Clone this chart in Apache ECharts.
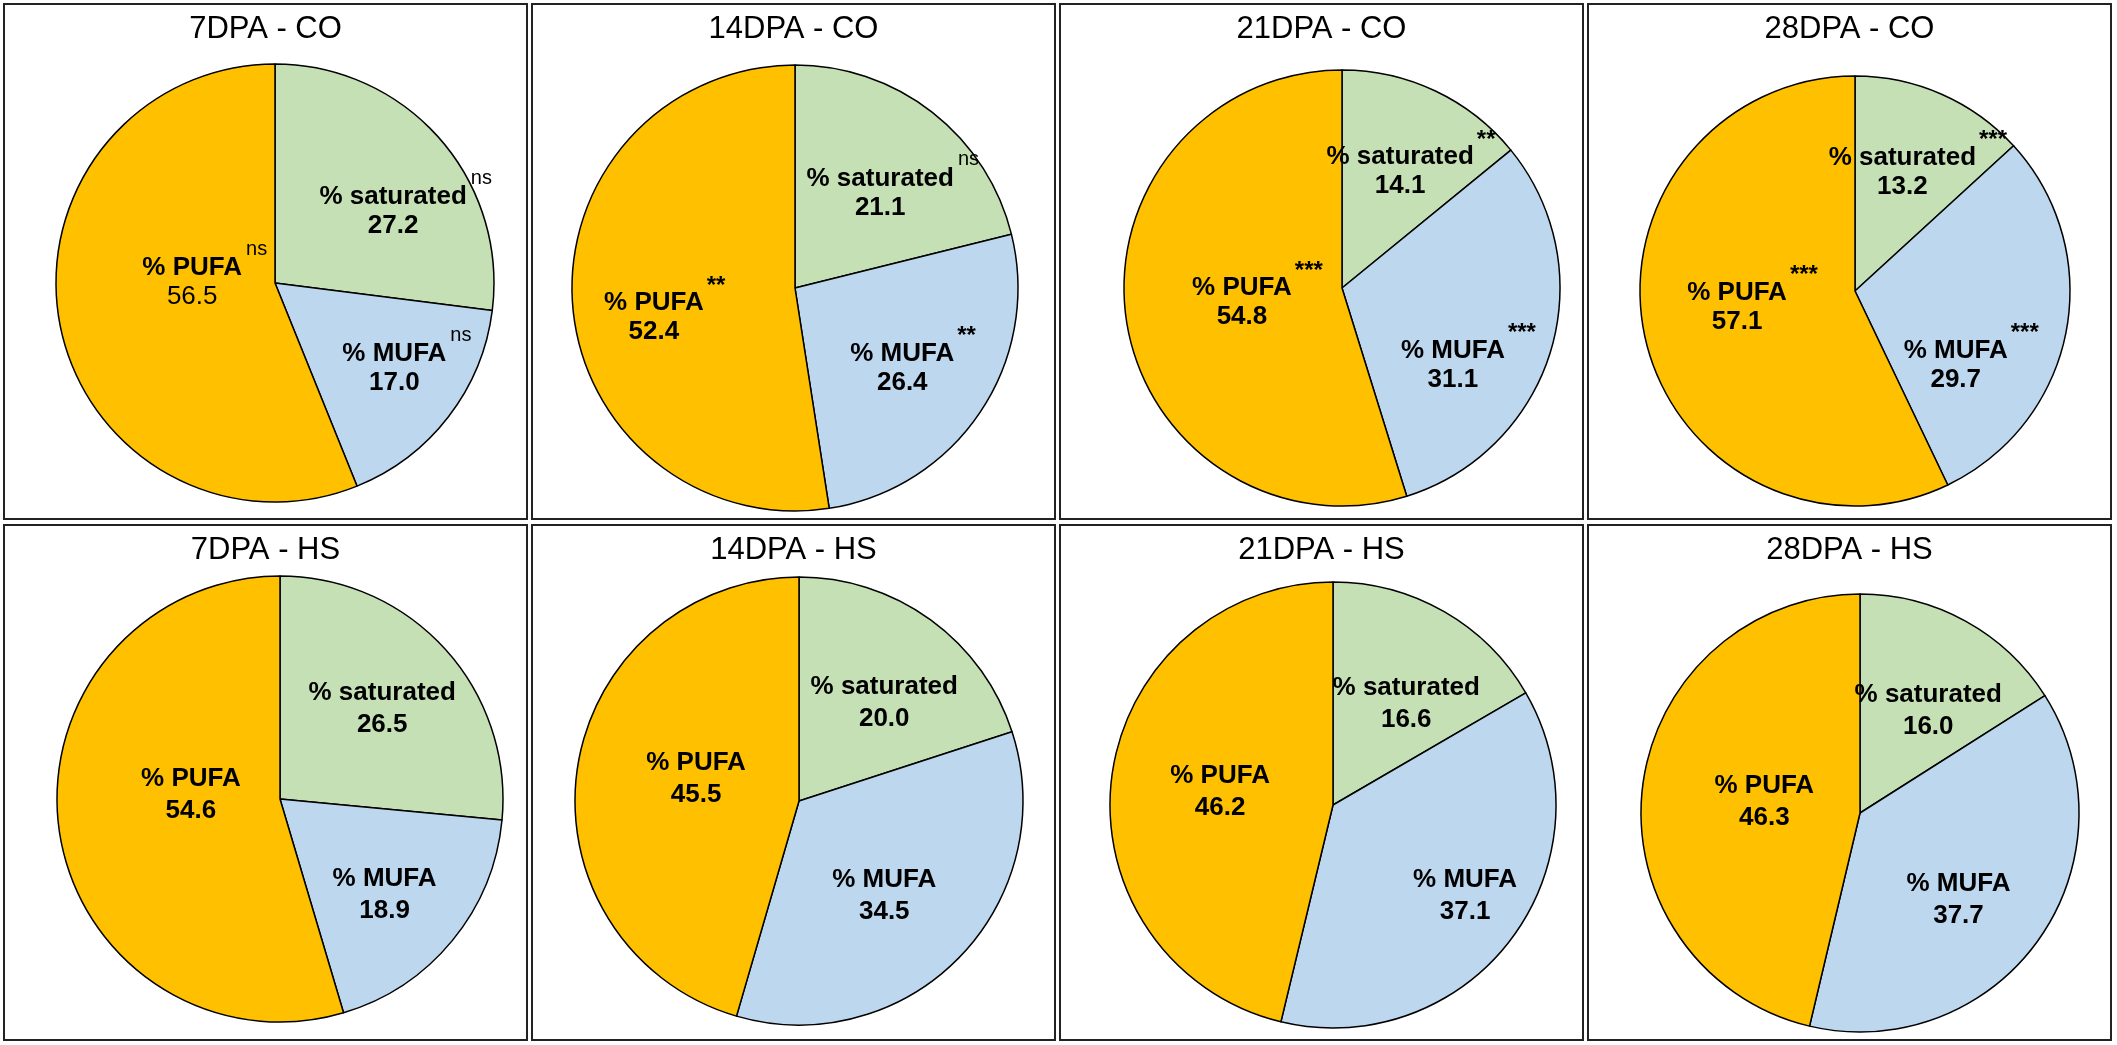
<!DOCTYPE html>
<html>
<head>
<meta charset="utf-8">
<script src="https://cdn.jsdelivr.net/npm/echarts@6/dist/echarts.min.js"></script>
<style>
html, body { margin: 0; padding: 0; background: #fff; }
body { width: 2117px; height: 1045px; position: relative; overflow: hidden; }
.panel { position: absolute; width: 525px; height: 517px; border: 2px solid #222; box-sizing: border-box; background: #fff; }
.panel .chart { width: 100%; height: 100%; }
</style>
</head>
<body>
<script>
// --- data ---
var panelTitles = ['7DPA - CO', '14DPA - CO', '21DPA - CO', '28DPA - CO',
                   '7DPA - HS', '14DPA - HS', '21DPA - HS', '28DPA - HS'];
var categories = ['% saturated', '% MUFA', '% PUFA'];
var saturated = [27.2, 21.1, 14.1, 13.2, 26.5, 20.0, 16.6, 16.0];
var mufa      = [17.0, 26.4, 31.1, 29.7, 18.9, 34.5, 37.1, 37.7];
var pufa      = [56.5, 52.4, 54.8, 57.1, 54.6, 45.5, 46.2, 46.3];
// significance marks (CO vs HS)
var satSig  = ['ns', 'ns', '**', '***', '', '', '', ''];
var mufaSig = ['ns', '**', '***', '***', '', '', '', ''];
var pufaSig = ['ns', '**', '***', '***', '', '', '', ''];

// --- layout / style ---
var colors = ['#C5E0B4', '#BDD7EE', '#FFC000'];
var panelLeft = [3, 531, 1059, 1587];
var panelTop = [3, 524];
var pieCenter = [[270, 278], [262, 283], [281, 283], [266, 286],
                 [275, 273], [266, 275], [272, 279], [271, 287]];
var pieRadius = [219, 223, 218, 215, 223, 224, 223, 219];
// label placement: [share of radius, turn in degrees from the slice middle] for sat, mufa, pufa
var labelPos = [
    [[0.65, 8], [0.65, -4], [0.38, 16]],
    [[0.60, 2], [0.58, 1], [0.64, -5]],
    [[0.63, 0], [0.60, 16], [0.46, 4]],
    [[0.63, -3], [0.56, 23], [0.55, 8]],
    [[0.61, 1], [0.635, 3], [0.40, 11]],
    [[0.58, 5], [0.57, 4], [0.47, 4]],
    [[0.56, 6], [0.72, -2], [0.51, 0]],
    [[0.56, 5], [0.60, 6], [0.44, 0]]
];
var FONT = "'Liberation Sans', Arial, sans-serif";

var measure = document.createElement('canvas').getContext('2d');
function textWidth(txt, font) {
    measure.font = font;
    return measure.measureText(txt).width;
}
function sigWidth(s) {
    if (s === 'ns') return textWidth(s, 'normal 20px ' + FONT) + 4;
    return textWidth(s, 'bold 24px ' + FONT) + 3;
}

var rich = {
    name: {fontSize: 26, fontWeight: 'bold', lineHeight: 32, color: '#000', fontFamily: FONT},
    ns: {fontSize: 20, fontWeight: 'normal', verticalAlign: 'top', color: '#000', fontFamily: FONT, padding: [0, 0, 0, 4]},
    star: {fontSize: 24, fontWeight: 'bold', verticalAlign: 'top', color: '#000', fontFamily: FONT, padding: [0, 0, 0, 3]},
    val: {fontSize: 26, fontWeight: 'bold', lineHeight: 32, color: '#000', fontFamily: FONT},
    valPlain: {fontSize: 26, fontWeight: 'normal', lineHeight: 32, color: '#000', fontFamily: FONT}
};
['ns', '**', '***'].forEach(function (s, i) {
    rich['nameUp' + i] = {fontSize: 26, fontWeight: 'bold', lineHeight: 42, verticalAlign: 'bottom',
        color: '#000', fontFamily: FONT, padding: [0, 0, 0, sigWidth(s)]};
});
var sigKey = {'ns': 0, '**': 1, '***': 2};

function makeLabel(panel, p) {
    var sig = [satSig, mufaSig, pufaSig][p.dataIndex][panel];
    // the 56.5 in the first panel is set in plain weight
    var vs = (panel === 0 && p.dataIndex === 2) ? 'valPlain' : 'val';
    var val = '{' + vs + '|' + p.value.toFixed(1) + '}';
    if (!sig) return '{name|' + p.name + '}\n' + val;
    var sk = sig === 'ns' ? 'ns' : 'star';
    return '{nameUp' + sigKey[sig] + '|' + p.name + '}{' + sk + '|' + sig + '}\n' + val;
}

function DrawPanel(k) {
    var row = Math.floor(k / 4), col = k % 4;
    var box = document.createElement('div');
    box.className = 'panel';
    box.style.left = panelLeft[col] + 'px';
    box.style.top = panelTop[row] + 'px';
    var el = document.createElement('div');
    el.className = 'chart';
    box.appendChild(el);
    document.body.appendChild(box);

    var values = [saturated[k], mufa[k], pufa[k]];
    var cx = pieCenter[k][0], cy = pieCenter[k][1], R = pieRadius[k];

    var myChart = echarts.init(el, null, {renderer: 'canvas'});
    myChart.setOption({
        animation: false,
        textStyle: {fontFamily: FONT},
        title: {
            text: panelTitles[k],
            left: 'center',
            top: 4,
            textStyle: {fontSize: 31, fontWeight: 'normal', color: '#000', fontFamily: FONT}
        },
        series: [{
            type: 'pie',
            center: [cx, cy],
            radius: R,
            startAngle: 90,
            clockwise: true,
            avoidLabelOverlap: false,
            silent: true,
            itemStyle: {borderColor: '#000', borderWidth: 1.5},
            emphasis: {disabled: true},
            labelLine: {show: false},
            label: {
                show: true,
                position: 'inside',
                color: '#000',
                textBorderWidth: 0,
                fontFamily: FONT,
                formatter: function (p) { return makeLabel(k, p); },
                rich: rich
            },
            // move each label along / around the slice middle the library gives
            labelLayout: function (p) {
                var r = p.labelRect;
                var lx = r.x + r.width / 2, ly = r.y + r.height / 2;
                var a = Math.atan2(ly - cy, lx - cx);
                var lp = labelPos[k][p.dataIndex];
                a += lp[1] * Math.PI / 180;
                var d = lp[0] * R;
                return {dx: cx + d * Math.cos(a) - lx, dy: cy + d * Math.sin(a) - ly};
            },
            data: categories.map(function (c, i) {
                return {name: c, value: values[i], itemStyle: {color: colors[i]}};
            })
        }]
    });
}

for (var n = 0; n < panelTitles.length; n++) {
    DrawPanel(n);
}
</script>
</body>
</html>
